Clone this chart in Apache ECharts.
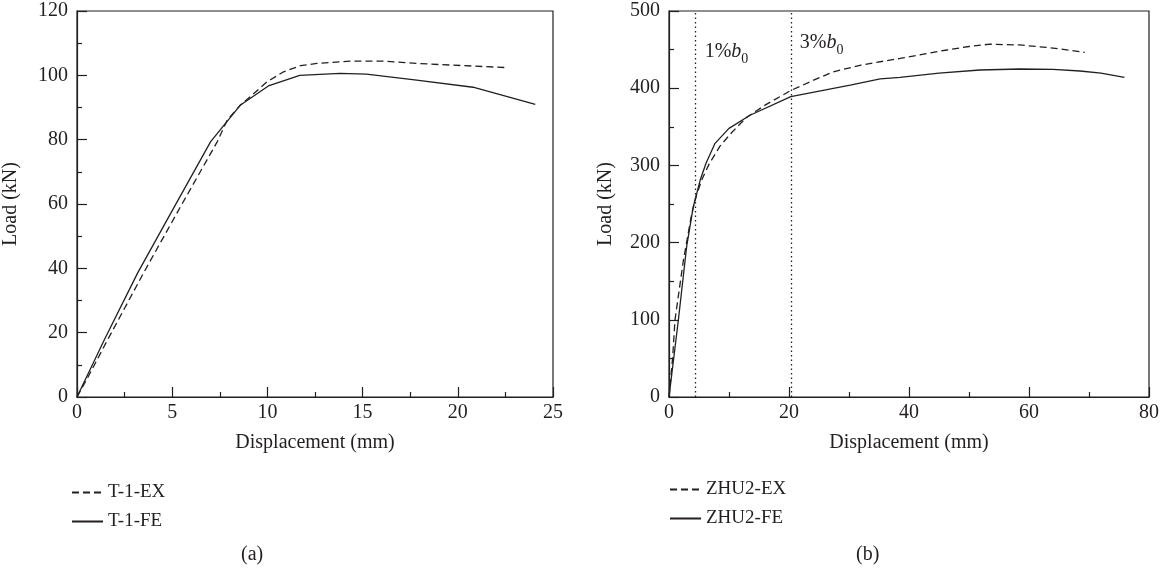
<!DOCTYPE html>
<html>
<head>
<meta charset="utf-8">
<script src="https://cdn.jsdelivr.net/npm/echarts@6/dist/echarts.min.js"></script>
<style>
  html, body { margin: 0; padding: 0; background: #fff; }
  #chart { width: 1163px; height: 575px; }
</style>
</head>
<body>
<div id="chart"></div>
<script>
// Panel (a): T-1 load–displacement curves
const T1_EX_X = [0, 0.56, 1.6, 3.49, 5.24, 7.37, 7.89, 8.59, 9.11, 9.98, 10.85, 11.73, 12.6, 14.35, 16.1, 17.84, 19.58, 22.6];
const T1_EX_Y = [0, 6, 17.7, 38.5, 57.1, 79.4, 86.1, 90.8, 93.4, 98.0, 101.1, 103.0, 103.7, 104.4, 104.4, 103.7, 103.2, 102.4];
const T1_FE_X = [0, 1.43, 3.18, 4.92, 7.02, 8.59, 10.05, 11.7, 13.82, 15.2, 17.84, 20.8, 24.07];
const T1_FE_Y = [0, 17.7, 38.5, 57.1, 79.4, 90.8, 96.7, 100.0, 100.6, 100.4, 98.5, 96.3, 91.0];

// Panel (b): ZHU2 load–displacement curves
const ZHU2_EX_X = [0, 0.6, 1.0, 2.4, 3.8, 4.6, 5.5, 6.7, 8.5, 10.5, 12.9, 16, 20.3, 24, 27.3, 32, 38.5, 46.3, 50, 53.5, 58.5, 64, 69.3];
const ZHU2_EX_Y = [0, 50, 100, 177, 238, 262, 282, 302, 325, 343, 362, 378, 397, 410, 421, 430, 438.6, 449.5, 454, 457, 456, 452, 446.5];
const ZHU2_FE_X = [0, 1.56, 2.94, 4.05, 5.2, 6.17, 7.67, 10, 13.5, 20.3, 30.2, 35.2, 38.5, 45, 51.8, 58.5, 64, 68.5, 72, 75.9];
const ZHU2_FE_Y = [0, 99.7, 194.7, 246.5, 281, 302.7, 328.6, 348, 365, 389, 404, 412, 414, 419.5, 423.6, 424.9, 424.5, 422.3, 419.5, 414];

// Reference displacements (1% and 3% of b0)
const REF_X = [4.45, 20.3];
const REF_PCT = ['1%', '3%'];

// Axis ranges
const A_X = { min: 0, max: 25, interval: 5 };
const A_Y = { min: 0, max: 120, interval: 20 };
const B_X = { min: 0, max: 80, interval: 20 };
const B_Y = { min: 0, max: 500, interval: 100 };

const INK = '#231f20';
const FONT = '"Liberation Serif", "DejaVu Serif", serif';
const DASH = [7, 4];

const zip = (xs, ys) => xs.map((x, i) => [x, ys[i]]);

function xAxisOf(idx, r) {
  return {
    type: 'value', gridIndex: idx, min: r.min, max: r.max, interval: r.interval,
    name: 'Displacement (mm)', nameLocation: 'middle', nameGap: 36,
    nameTextStyle: { color: INK, fontFamily: FONT, fontSize: 20 },
    axisLine: { show: true, lineStyle: { color: INK, width: 1.2 } },
    axisTick: { show: true, inside: true, length: 10, lineStyle: { color: INK, width: 1.2 } },
    minorTick: { show: true, splitNumber: 2, length: 5, lineStyle: { color: INK, width: 1.2 } },
    axisLabel: { color: INK, fontFamily: FONT, fontSize: 20, margin: 6 },
    splitLine: { show: false }
  };
}
function yAxisOf(idx, r, gap) {
  return {
    type: 'value', gridIndex: idx, min: r.min, max: r.max, interval: r.interval,
    name: 'Load (kN)', nameLocation: 'middle', nameGap: gap,
    nameTextStyle: { color: INK, fontFamily: FONT, fontSize: 20 },
    axisLine: { show: true, lineStyle: { color: INK, width: 1.2 } },
    axisTick: { show: true, inside: true, length: 10, lineStyle: { color: INK, width: 1.2 } },
    minorTick: { show: true, splitNumber: 2, length: 5, lineStyle: { color: INK, width: 1.2 } },
    axisLabel: { color: INK, fontFamily: FONT, fontSize: 20, margin: 9 },
    splitLine: { show: false }
  };
}
function curve(name, idx, data, dashed) {
  return {
    name, type: 'line', xAxisIndex: idx, yAxisIndex: idx, data,
    symbol: 'none', smooth: false, animation: false,
    lineStyle: { color: INK, width: 1.3, type: dashed ? DASH : 'solid' },
    itemStyle: { color: INK }
  };
}

const refRich = {
  n: { fontFamily: FONT, fontSize: 20, color: INK, verticalAlign: 'bottom', padding: [0, 0, 5, 0] },
  b: { fontFamily: FONT, fontSize: 20, fontStyle: 'italic', color: INK, verticalAlign: 'bottom', padding: [0, 0, 5, 0] },
  s: { fontFamily: FONT, fontSize: 14, color: INK, verticalAlign: 'bottom' }
};

const zhuEx = curve('ZHU2-EX', 1, zip(ZHU2_EX_X, ZHU2_EX_Y), true);
zhuEx.markLine = {
  silent: true, symbol: 'none', animation: false,
  lineStyle: { color: INK, width: 1.3, type: [1.5, 3] },
  label: { show: false },
  data: REF_X.map(x => ({ xAxis: x }))
};
zhuEx.markPoint = {
  silent: true, symbol: 'circle', symbolSize: 0, animation: false,
  data: REF_X.map((x, i) => ({
    coord: [x, B_Y.max],
    label: {
      show: true, position: 'right', offset: [4, i === 0 ? 43 : 34],
      formatter: '{n|' + REF_PCT[i] + '}{b|b}{s|0}', rich: refRich
    }
  }))
};

// Legend shows only the line sample, no marker
const legendBase = {
  orient: 'vertical', itemWidth: 31, itemHeight: 12, itemGap: 10,
  itemStyle: { color: 'rgba(0,0,0,0)', borderWidth: 0, opacity: 0 },
  textStyle: { color: INK, fontFamily: FONT, fontSize: 19 },
  selectedMode: false
};

const option = {
  backgroundColor: '#fff',
  animation: false,
  title: [
    { text: '(a)', left: 236, top: 540, textStyle: { color: INK, fontFamily: FONT, fontSize: 20, fontWeight: 'normal' } },
    { text: '(b)', left: 851, top: 540, textStyle: { color: INK, fontFamily: FONT, fontSize: 20, fontWeight: 'normal' } }
  ],
  legend: [
    Object.assign({ data: ['T-1-EX', 'T-1-FE'], left: 66, top: 478 }, legendBase),
    Object.assign({ data: ['ZHU2-EX', 'ZHU2-FE'], left: 664, top: 475 }, legendBase)
  ],
  grid: [
    { left: 76, top: 11, width: 477, height: 386, show: true, borderColor: INK, borderWidth: 1.2, backgroundColor: 'transparent' },
    { left: 669, top: 11, width: 480, height: 386, show: true, borderColor: INK, borderWidth: 1.2, backgroundColor: 'transparent' }
  ],
  xAxis: [xAxisOf(0, A_X), xAxisOf(1, B_X)],
  yAxis: [yAxisOf(0, A_Y, 56), yAxisOf(1, B_Y, 53)],
  series: [
    curve('T-1-EX', 0, zip(T1_EX_X, T1_EX_Y), true),
    curve('T-1-FE', 0, zip(T1_FE_X, T1_FE_Y), false),
    zhuEx,
    curve('ZHU2-FE', 1, zip(ZHU2_FE_X, ZHU2_FE_Y), false)
  ]
};

const chart = echarts.init(document.getElementById('chart'), null, { renderer: 'canvas' });
chart.setOption(option);
</script>
</body>
</html>
